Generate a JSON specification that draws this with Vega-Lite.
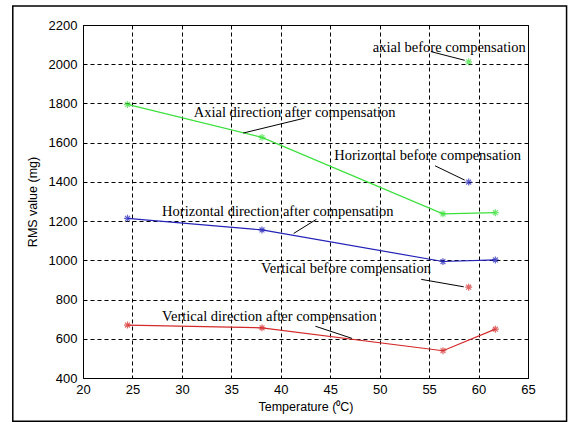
{
  "$schema": "https://vega.github.io/schema/vega-lite/v6.json",
  "width": 445,
  "height": 353,
  "autosize": {"type": "none"},
  "padding": {"left": 83, "top": 25, "right": 44, "bottom": 44},
  "background": "white",
  "config": {
    "view": {"stroke": "black", "strokeWidth": 1},
    "axis": {
      "grid": true,
      "gridColor": "black",
      "gridDash": [4, 3],
      "gridOpacity": 1,
      "gridWidth": 1,
      "domain": false,
      "ticks": false,
      "labelFont": "Liberation Sans",
      "labelFontSize": 13,
      "labelColor": "black",
      "labelFlush": false,
      "labelOverlap": false,
      "titleFont": "Liberation Sans",
      "titleFontSize": 12.5,
      "titleFontWeight": "normal",
      "titleColor": "black"
    }
  },
  "datasets": {
    "after": [
      {"series": "axial", "x": 24.5, "y": 1795},
      {"series": "axial", "x": 38.1, "y": 1627},
      {"series": "axial", "x": 56.4, "y": 1237},
      {"series": "axial", "x": 61.7, "y": 1243},
      {"series": "horizontal", "x": 24.5, "y": 1214},
      {"series": "horizontal", "x": 38.1, "y": 1155},
      {"series": "horizontal", "x": 56.4, "y": 994},
      {"series": "horizontal", "x": 61.7, "y": 1002},
      {"series": "vertical", "x": 24.5, "y": 670},
      {"series": "vertical", "x": 38.1, "y": 656},
      {"series": "vertical", "x": 56.4, "y": 539},
      {"series": "vertical", "x": 61.7, "y": 649}
    ],
    "before": [
      {"series": "axial", "x": 59.0, "y": 2012},
      {"series": "horizontal", "x": 59.0, "y": 1399},
      {"series": "vertical", "x": 59.0, "y": 863}
    ],
    "notes": [
      {"label": "axial before compensation", "x": 49.3, "y": 2083, "ax": 55.2, "ay": 2064, "bx": 58.6, "by": 2020},
      {"label": "Axial direction after compensation", "x": 31.2, "y": 1751, "ax": 36.2, "ay": 1649, "bx": 42.4, "by": 1725},
      {"label": "Horizontal before compensation", "x": 45.4, "y": 1532, "ax": 55.6, "ay": 1482, "bx": 58.6, "by": 1409},
      {"label": "Horizontal direction after compensation", "x": 28.0, "y": 1247, "ax": 41.3, "ay": 1137, "bx": 43.6, "by": 1209},
      {"label": "Vertical before compensation", "x": 38.0, "y": 954, "ax": 54.2, "ay": 903, "bx": 58.5, "by": 865},
      {"label": "Vertical direction after compensation", "x": 28.0, "y": 712, "ax": 43.5, "ay": 664, "bx": 47.2, "by": 602}
    ],
    "frame": [
      {"x": 12.9, "x2": 68.9, "y": 2297, "y2": 180}
    ]
  },
  "encoding": {
    "x": {
      "field": "x",
      "type": "quantitative",
      "scale": {"domain": [20, 65], "nice": false, "zero": false},
      "axis": {"values": [20, 25, 30, 35, 40, 45, 50, 55, 60, 65], "format": "d", "title": "Temperature (⁰C)", "labelPadding": 5, "titlePadding": 4}
    },
    "y": {
      "field": "y",
      "type": "quantitative",
      "scale": {"domain": [400, 2200], "nice": false, "zero": false},
      "axis": {"values": [400, 600, 800, 1000, 1200, 1400, 1600, 1800, 2000, 2200], "format": "d", "title": "RMS value (mg)", "labelPadding": 6, "titlePadding": 9}
    }
  },
  "layer": [
    {
      "data": {"name": "frame"},
      "mark": {"type": "rect", "fill": null, "fillOpacity": 0, "stroke": "black", "strokeWidth": 1.5, "clip": false},
      "encoding": {
        "x2": {"field": "x2"},
        "y2": {"field": "y2"}
      }
    },
    {
      "data": {"name": "after"},
      "mark": {"type": "line", "strokeWidth": 1.2},
      "encoding": {
        "color": {"field": "series", "type": "nominal", "scale": {"domain": ["axial", "horizontal", "vertical"], "range": ["#3be03b", "#2323b8", "#d42a2a"]}, "legend": null}
      }
    },
    {
      "data": {"name": "after"},
      "mark": {"type": "point", "filled": false, "strokeWidth": 1.2, "size": 49, "shape": "M-1,0L1,0M0,-1L0,1M-0.7,-0.7L0.7,0.7M-0.7,0.7L0.7,-0.7"},
      "encoding": {
        "color": {"field": "series", "type": "nominal", "legend": null}
      }
    },
    {
      "data": {"name": "before"},
      "mark": {"type": "point", "filled": false, "strokeWidth": 1.2, "size": 49, "shape": "M-1,0L1,0M0,-1L0,1M-0.7,-0.7L0.7,0.7M-0.7,0.7L0.7,-0.7"},
      "encoding": {
        "color": {"field": "series", "type": "nominal", "legend": null}
      }
    },
    {
      "data": {"name": "notes"},
      "mark": {"type": "rule", "color": "black", "strokeWidth": 1},
      "encoding": {
        "x": {"field": "ax", "type": "quantitative"},
        "y": {"field": "ay", "type": "quantitative"},
        "x2": {"field": "bx"},
        "y2": {"field": "by"}
      }
    },
    {
      "data": {"name": "notes"},
      "mark": {"type": "text", "align": "left", "baseline": "middle", "font": "Liberation Serif", "fontSize": 14.5, "color": "black"},
      "encoding": {
        "text": {"field": "label", "type": "nominal"}
      }
    }
  ]
}
